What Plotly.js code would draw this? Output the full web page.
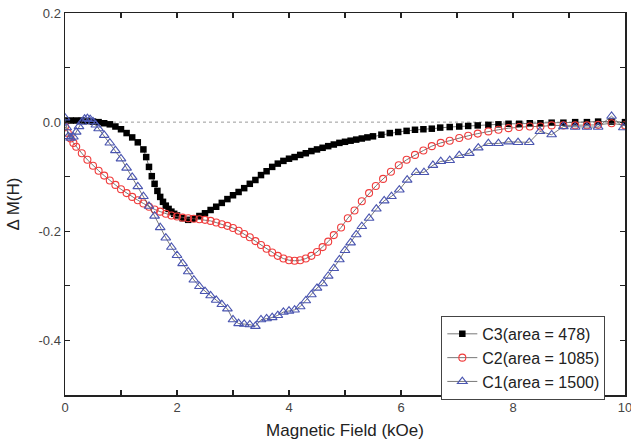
<!DOCTYPE html>
<html>
<head>
<meta charset="utf-8">
<script src="https://cdn.plot.ly/plotly-3.0.1.min.js"></script>
<style>html,body{margin:0;padding:0;background:#fff;}#chart{width:631px;height:446px;}</style>
</head>
<body>
<div id="chart"></div>
<script>
// C3 (area = 478) - black filled squares
const c3x = [0,0.1,0.2,0.3,0.4,0.5,0.6,0.7,0.8,0.9,1.0,1.1,1.2,1.3,1.4,1.45,1.5,1.55,1.6,1.65,1.7,1.75,1.8,1.85,1.9,1.95,2.0,2.1,2.2,2.3,2.4,2.5,2.6,2.7,2.8,2.9,3.0,3.1,3.2,3.3,3.4,3.5,3.6,3.7,3.8,3.9,4.0,4.1,4.2,4.3,4.4,4.5,4.6,4.7,4.8,4.9,5.0,5.1,5.2,5.3,5.4,5.5,5.65,5.8,5.95,6.1,6.25,6.4,6.55,6.7,6.87,7.04,7.2,7.37,7.56,7.74,7.92,8.11,8.3,8.49,8.69,8.9,9.11,9.32,9.52,9.76,10.0];
const c3y = [0.003,0.003,0.003,0.003,0.002,0.001,0.0,-0.002,-0.004,-0.008,-0.013,-0.02,-0.028,-0.037,-0.05,-0.064,-0.082,-0.099,-0.113,-0.126,-0.137,-0.146,-0.153,-0.159,-0.164,-0.168,-0.171,-0.176,-0.179,-0.177,-0.172,-0.167,-0.161,-0.155,-0.148,-0.141,-0.134,-0.128,-0.121,-0.113,-0.106,-0.097,-0.09,-0.082,-0.076,-0.071,-0.067,-0.064,-0.06,-0.057,-0.053,-0.05,-0.047,-0.044,-0.041,-0.038,-0.036,-0.034,-0.032,-0.030,-0.028,-0.026,-0.023,-0.02,-0.018,-0.016,-0.014,-0.013,-0.012,-0.01,-0.009,-0.008,-0.007,-0.006,-0.005,-0.004,-0.003,-0.003,-0.002,-0.002,-0.001,-0.001,0.0,0.0,0.001,0.001,0.0];

// C2 (area = 1085) - red open circles
const c2x = [0,0.05,0.1,0.15,0.2,0.3,0.4,0.5,0.6,0.7,0.8,0.9,1.0,1.1,1.2,1.3,1.4,1.5,1.6,1.7,1.8,1.9,2.0,2.1,2.2,2.3,2.4,2.5,2.6,2.7,2.8,2.9,3.0,3.1,3.2,3.3,3.4,3.5,3.6,3.7,3.8,3.9,4.0,4.1,4.2,4.3,4.4,4.5,4.6,4.7,4.8,4.93,5.05,5.17,5.3,5.43,5.55,5.68,5.82,5.96,6.1,6.25,6.4,6.55,6.71,6.87,7.04,7.2,7.37,7.56,7.74,7.92,8.11,8.3,8.49,8.69,8.9,9.11,9.32,9.52,9.76,10.0];
const c2y = [-0.008,-0.02,-0.03,-0.038,-0.045,-0.057,-0.069,-0.080,-0.089,-0.098,-0.107,-0.115,-0.123,-0.130,-0.137,-0.143,-0.149,-0.155,-0.160,-0.164,-0.168,-0.171,-0.173,-0.175,-0.176,-0.177,-0.178,-0.179,-0.181,-0.184,-0.187,-0.19,-0.194,-0.199,-0.205,-0.211,-0.218,-0.225,-0.232,-0.239,-0.245,-0.25,-0.253,-0.254,-0.253,-0.25,-0.245,-0.238,-0.229,-0.219,-0.207,-0.193,-0.176,-0.162,-0.145,-0.13,-0.117,-0.104,-0.091,-0.079,-0.069,-0.06,-0.052,-0.044,-0.038,-0.034,-0.029,-0.025,-0.021,-0.017,-0.014,-0.011,-0.009,-0.008,-0.008,-0.006,-0.006,-0.006,-0.006,-0.005,-0.002,-0.006];

// C1 (area = 1500) - blue open triangles
const c1x = [0,0.03,0.06,0.1,0.15,0.2,0.25,0.3,0.35,0.4,0.45,0.5,0.55,0.6,0.7,0.8,0.9,1.0,1.1,1.2,1.3,1.4,1.5,1.6,1.7,1.8,1.9,2.0,2.1,2.2,2.3,2.4,2.5,2.6,2.7,2.8,2.9,3.0,3.1,3.2,3.3,3.4,3.5,3.6,3.7,3.8,3.9,4.0,4.1,4.2,4.3,4.4,4.5,4.6,4.7,4.8,4.9,5.0,5.1,5.2,5.3,5.43,5.56,5.7,5.83,5.97,6.11,6.27,6.41,6.57,6.71,6.87,7.04,7.22,7.38,7.56,7.74,7.92,8.09,8.29,8.48,8.69,8.9,9.11,9.32,9.52,9.76,9.97];
const c1y = [0.008,-0.01,-0.026,-0.029,-0.027,-0.018,-0.008,0.0,0.006,0.007,0.005,0.001,-0.005,-0.012,-0.024,-0.038,-0.052,-0.067,-0.084,-0.101,-0.118,-0.136,-0.154,-0.172,-0.193,-0.212,-0.229,-0.244,-0.259,-0.274,-0.289,-0.301,-0.31,-0.318,-0.326,-0.334,-0.342,-0.362,-0.369,-0.37,-0.371,-0.374,-0.362,-0.36,-0.358,-0.354,-0.348,-0.346,-0.344,-0.338,-0.327,-0.316,-0.304,-0.296,-0.282,-0.268,-0.252,-0.235,-0.221,-0.206,-0.191,-0.176,-0.159,-0.144,-0.136,-0.124,-0.106,-0.092,-0.092,-0.079,-0.072,-0.070,-0.061,-0.057,-0.047,-0.039,-0.039,-0.036,-0.037,-0.037,-0.017,-0.023,-0.008,-0.009,-0.009,-0.009,0.011,-0.01];

const names = ['C3(area = 478)','C2(area = 1085)','C1(area = 1500)'];
const xTickVals = [0,2,4,6,8,10];
const xTickText = ['0','2','4','6','8','10'];
const yTickVals = [-0.4,-0.2,0.0,0.2];
const yTickText = ['-0.4','-0.2','0.0','0.2'];

const FONT = 'Arial, Liberation Sans, sans-serif';
const lineStyle = {color:'#555', width:0.8};
const traces = [
  {x:c3x, y:c3y, name:names[0], mode:'lines+markers', line:lineStyle,
   marker:{symbol:'square', size:6.5, color:'#000'}},
  {x:c2x, y:c2y, name:names[1], mode:'lines+markers', line:lineStyle,
   marker:{symbol:'circle-open', size:7, color:'#f03c3c', line:{width:1.1, color:'#f03c3c'}}},
  {x:c1x, y:c1y, name:names[2], mode:'lines+markers', line:lineStyle,
   marker:{symbol:'triangle-up-open', size:8.5, color:'#4a55b0', line:{width:1.1, color:'#4a55b0'}}}
];

const axisCommon = {
  showline:true, linecolor:'#222', linewidth:1.5, mirror:'ticks',
  ticks:'inside', ticklen:5, tickwidth:1.2, tickcolor:'#222',
  showgrid:false, zeroline:false, ticklabeloverflow:'allow',
  tickfont:{family:FONT, size:13, color:'#444'}
};

const layout = {
  width:631, height:446,
  margin:{l:65, r:6, t:13, b:51},
  paper_bgcolor:'#fff', plot_bgcolor:'#fff',
  font:{family:FONT, color:'#222'},
  showlegend:true,
  legend:{x:0.672, y:0.207, xanchor:'left', yanchor:'top',
    bgcolor:'#fff', bordercolor:'#444', borderwidth:1,
    font:{family:FONT, size:16, color:'#222'},
    tracegroupgap:0, itemwidth:30},
  xaxis:Object.assign({}, axisCommon, {
    range:[0,10], tickmode:'array', tickvals:xTickVals, ticktext:xTickText,
    minor:{dtick:1, ticks:'inside', ticklen:5, tickwidth:1.2, tickcolor:'#222'},
    title:{text:'Magnetic Field (kOe)', standoff:10,
      font:{family:FONT, size:17, color:'#222'}}
  }),
  yaxis:Object.assign({}, axisCommon, {
    range:[-0.5,0.2], tickmode:'array', tickvals:yTickVals, ticktext:yTickText,
    minor:{dtick:0.1, ticks:'inside', ticklen:5, tickwidth:1.2, tickcolor:'#222'},
    title:{text:'Δ M(H)', standoff:14,
      font:{family:FONT, size:17, color:'#222'}}
  }),
  shapes:[{type:'line', xref:'x domain', x0:0, x1:1, yref:'y', y0:0, y1:0,
    line:{color:'#999', width:1, dash:'dot'}, layer:'below'}]
};

Plotly.newPlot('chart', traces, layout, {displayModeBar:false, staticPlot:true});
</script>
</body>
</html>
